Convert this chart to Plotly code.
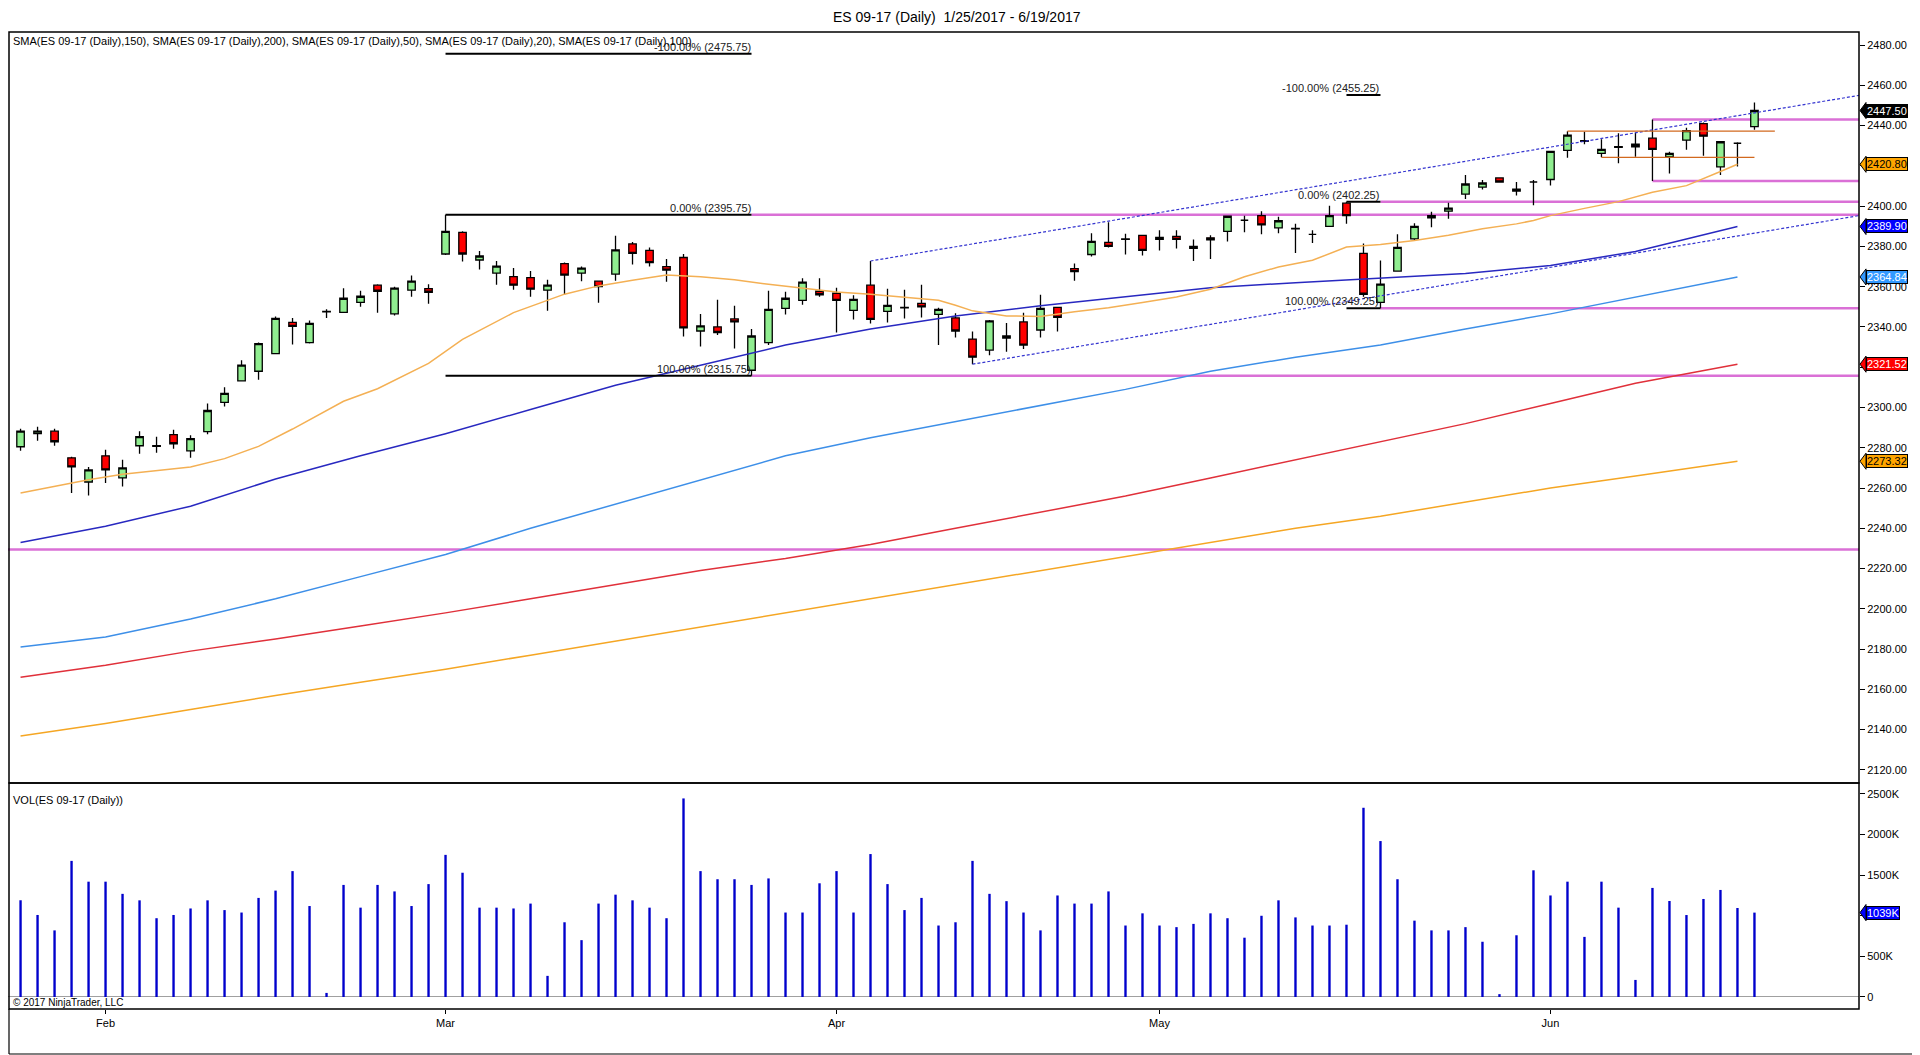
import pandas as pd
import plotly.graph_objects as go

# daily bars of ES 09-17; Good Friday has no bar, the 2/20 and 5/29 holiday sessions do
dates = [d.strftime("%Y-%m-%d") for d in pd.bdate_range("2017-01-25", "2017-06-19")
         if d.strftime("%Y-%m-%d") != "2017-04-14"]

opens = [2280.5, 2287.0, 2288.25, 2275.0, 2263.0, 2276.0, 2265.0, 2281.0, 2281.0, 2286.5,
         2278.5, 2288.0, 2302.5, 2313.25, 2318.0, 2326.75, 2342.25, 2332.25, 2347.5, 2347.25,
         2352.25, 2360.75, 2346.5, 2358.25, 2359.0, 2376.25, 2387.0, 2373.25, 2366.75, 2365.0,
         2364.5, 2358.25, 2371.5, 2366.75, 2362.75, 2366.25, 2381.25, 2378.0, 2370.0, 2374.5,
         2338.0, 2340.0, 2344.0, 2318.5, 2332.25, 2349.25, 2353.25, 2357.75, 2356.75, 2348.25,
         2360.75, 2347.75, 2349.5, 2351.75, 2346.25, 2344.5, 2334.0, 2328.5, 2334.5, 2342.5,
         2338.5, 2349.75, 2369.0, 2376.0, 2382.0, 2383.75, 2385.5, 2383.5, 2385.0, 2379.0,
         2384.25, 2387.5, 2393.0, 2395.25, 2389.25, 2389.0, 2386.0, 2390.0, 2401.5, 2376.5,
         2352.25, 2367.75, 2383.75, 2394.25, 2397.5, 2406.0, 2409.5, 2414.0, 2407.5, 2412.0,
         2413.25, 2427.75, 2432.5, 2426.25, 2429.5, 2430.75, 2433.75, 2424.5, 2432.75, 2441.0,
         2419.5, 2431.25, 2439.5]
highs = [2289.5, 2290.5, 2289.5, 2275.5, 2270.5, 2279.0, 2274.0, 2288.25, 2285.5, 2289.0,
         2286.25, 2302.0, 2310.0, 2323.5, 2332.25, 2345.25, 2344.5, 2343.25, 2348.75, 2359.25,
         2358.0, 2361.25, 2360.0, 2365.5, 2361.25, 2395.75, 2387.5, 2377.75, 2372.75, 2369.25,
         2367.75, 2363.5, 2372.0, 2370.0, 2363.0, 2385.25, 2382.25, 2379.5, 2373.75, 2376.25,
         2346.5, 2353.5, 2350.5, 2339.0, 2358.0, 2357.5, 2364.25, 2364.25, 2359.5, 2355.75,
         2372.75, 2359.0, 2358.5, 2361.0, 2349.5, 2346.75, 2337.75, 2343.5, 2342.0, 2347.0,
         2356.0, 2350.0, 2371.5, 2386.5, 2392.0, 2386.25, 2385.75, 2388.0, 2388.0, 2383.5,
         2385.5, 2395.25, 2395.25, 2397.5, 2394.75, 2391.25, 2388.0, 2400.25, 2402.25, 2381.5,
         2373.0, 2386.0, 2391.5, 2397.25, 2401.75, 2415.5, 2413.0, 2414.25, 2412.0, 2413.0,
         2427.25, 2437.25, 2437.0, 2433.25, 2436.25, 2436.5, 2443.0, 2427.0, 2439.0, 2441.5,
         2432.25, 2431.75, 2451.5]
lows = [2278.5, 2283.5, 2281.0, 2257.5, 2256.25, 2262.5, 2260.75, 2277.0, 2277.5, 2279.5,
        2275.0, 2286.75, 2300.5, 2313.0, 2313.75, 2326.5, 2331.25, 2331.75, 2344.5, 2347.25,
        2350.0, 2347.0, 2345.75, 2355.0, 2351.5, 2375.75, 2372.5, 2368.5, 2361.0, 2358.5,
        2355.0, 2348.0, 2356.0, 2362.75, 2352.0, 2363.0, 2371.0, 2370.0, 2362.5, 2335.25,
        2330.25, 2336.0, 2329.25, 2315.75, 2331.0, 2346.25, 2351.0, 2355.0, 2337.25, 2343.75,
        2341.75, 2342.25, 2344.25, 2344.75, 2331.0, 2334.75, 2321.5, 2326.0, 2327.75, 2329.0,
        2334.75, 2337.75, 2363.0, 2375.0, 2379.5, 2376.0, 2375.5, 2378.0, 2379.0, 2372.75,
        2373.75, 2382.5, 2387.0, 2386.0, 2386.5, 2376.75, 2381.75, 2389.75, 2391.25, 2355.0,
        2349.25, 2367.5, 2382.75, 2389.5, 2393.75, 2403.5, 2408.25, 2411.75, 2405.25, 2400.5,
        2410.25, 2424.0, 2430.75, 2424.25, 2421.25, 2424.5, 2412.5, 2416.25, 2428.0, 2425.0,
        2415.5, 2419.75, 2438.0]
closes = [2288.25, 2288.25, 2283.0, 2270.5, 2269.0, 2269.0, 2270.0, 2285.5, 2280.75, 2282.0,
          2284.5, 2298.5, 2307.0, 2321.0, 2331.75, 2344.25, 2340.25, 2341.75, 2347.75, 2354.25,
          2355.25, 2357.75, 2359.25, 2362.75, 2357.25, 2387.5, 2376.25, 2375.25, 2370.25, 2360.75,
          2358.75, 2360.75, 2365.75, 2369.25, 2360.0, 2378.25, 2376.5, 2372.0, 2368.25, 2339.5,
          2340.5, 2337.25, 2342.5, 2335.5, 2348.75, 2354.25, 2362.25, 2356.0, 2353.25, 2353.75,
          2343.75, 2350.75, 2349.75, 2350.0, 2348.75, 2338.0, 2325.0, 2343.0, 2335.5, 2331.0,
          2349.25, 2344.75, 2367.5, 2382.5, 2380.0, 2383.5, 2378.0, 2384.5, 2383.5, 2380.0,
          2383.25, 2395.0, 2393.0, 2390.75, 2392.75, 2388.75, 2386.0, 2395.25, 2395.25, 2356.25,
          2361.25, 2379.5, 2390.0, 2395.25, 2399.0, 2411.0, 2411.5, 2412.0, 2408.5, 2412.0,
          2427.25, 2435.25, 2432.25, 2428.25, 2429.25, 2429.5, 2428.25, 2426.25, 2437.5, 2434.75,
          2432.0, 2431.25, 2447.5]

# volume in thousands of contracts
volume_k = [1191, 1010, 820, 1676, 1420, 1420, 1270, 1190, 970, 1010,
            1090, 1190, 1070, 1040, 1220, 1310, 1550, 1120, 50, 1380,
            1100, 1380, 1300, 1120, 1390, 1750, 1530, 1100, 1100, 1090,
            1150, 260, 920, 700, 1150, 1260, 1190, 1100, 970, 2445,
            1550, 1450, 1450, 1380, 1460, 1040, 1040, 1400, 1550, 1040,
            1760, 1390, 1070, 1220, 880, 920, 1676, 1270, 1180, 1040,
            820, 1250, 1150, 1150, 1300, 880, 1030, 880, 860, 900,
            1030, 970, 730, 1000, 1190, 980, 880, 880, 890, 2330,
            1920, 1450, 940, 820, 820, 860, 680, 35, 760, 1560,
            1250, 1420, 740, 1420, 1100, 210, 1343, 1182, 1009, 1207,
            1318, 1096, 1039]

# moving averages at these bar numbers (they stop one bar early)
sma_bars = [0, 5, 10, 15, 20, 25, 30, 35, 40, 45, 50, 55, 60, 65, 70, 75, 80, 85, 90, 95, 101]
sma50 = [2233, 2241, 2251, 2264.5, 2276, 2287, 2299, 2311, 2321, 2331, 2339, 2345.5, 2350.5,
         2355, 2359.5, 2362, 2364.3, 2366.5, 2370.5, 2377.5, 2389.90]
sma100 = [2181, 2186, 2195, 2205, 2216, 2227, 2240, 2252, 2264, 2276, 2285, 2293, 2301,
          2309, 2318, 2325, 2331, 2339, 2346.5, 2355, 2364.84]
sma150 = [2166, 2172, 2179, 2185, 2191.5, 2198, 2205, 2212, 2219, 2225, 2232, 2240, 2248,
          2256, 2265, 2274, 2283, 2292, 2302, 2312, 2321.52]
sma200 = [2136.8, 2143, 2150, 2157, 2163.5, 2170, 2177, 2184, 2191, 2198, 2205, 2212, 2219,
          2226, 2233, 2240, 2246, 2253, 2260, 2266, 2273.32]
sma20_bars = [0, 4, 6, 10, 12, 14, 16, 19, 21, 24, 26, 29, 32, 34, 36, 38, 40, 42, 44, 46,
              48, 50, 52, 54, 55, 56, 58, 60, 62, 64, 66, 68, 70, 72, 74, 76, 78, 80, 82, 84,
              86, 88, 89, 90, 92, 94, 96, 98, 100, 101]
sma20 = [2257.5, 2264.1, 2266.9, 2270.4, 2274.6, 2280.7, 2289.3, 2303.1, 2309.3, 2321.9,
         2333.8, 2347.1, 2356.3, 2360.4, 2363.2, 2365.8, 2365.0, 2363.4, 2361.2, 2359.2,
         2357.4, 2356.2, 2354.9, 2353.3, 2350.8, 2348.0, 2345.5, 2345.2, 2347.5, 2349.6,
         2352.1, 2354.9, 2358.7, 2364.9, 2369.8, 2373.1, 2379.7, 2381.0, 2383.0, 2385.5,
         2388.8, 2391.2, 2392.9, 2395.3, 2398.9, 2402.25, 2406.9, 2410.2, 2417.2, 2420.80]

# drawing objects on the chart
fib1 = ("2017-03-01", 2395.75, "2017-03-27", 2315.75)
fib2 = ("2017-05-16", 2402.25, "2017-05-18", 2349.25)
channel_upper = [("2017-04-05", 2372.75), ("2017-06-19", 2446.33)]
channel_lower = [("2017-04-13", 2321.5), ("2017-06-19", 2386.59)]
support_level = 2229.5
box_bar = "2017-06-09"

pos = {d: i for i, d in enumerate(dates)}

# layout in window pixels; the page body adds an 8px margin round the figure
OFF = 8
WIN_W, WIN_H = 1920, 1055
PL, PR, PT, PB = OFF, 1859, 32, 1009
SPLIT = 783
X_LO, X_HI = -1.15 + (PL - 1) / 17.0, 108.15


def px(xw):
    return (xw - PL) / (PR - PL)


def py(yw):
    return (PB - yw) / (PB - PT)


vol_top = py(SPLIT)

fig = go.Figure()

fig.add_trace(go.Candlestick(
    x=dates, open=opens, high=highs, low=lows, close=closes,
    increasing=dict(fillcolor="#90EE90", line=dict(color="black", width=1.3)),
    decreasing=dict(fillcolor="#FF0000", line=dict(color="black", width=1.3)),
    whiskerwidth=0, yaxis="y", hoverinfo="skip"))

fig.add_trace(go.Bar(
    x=dates, y=volume_k, width=0.14, marker=dict(color="#0000CC", line=dict(width=0)),
    yaxis="y2", hoverinfo="skip"))

fig.add_trace(go.Scatter(
    x=[dates[i] for i in sma_bars], y=sma200, mode="lines",
    line=dict(color="#F5A623", width=1.5), yaxis="y", hoverinfo="skip"))
fig.add_trace(go.Scatter(
    x=[dates[i] for i in sma_bars], y=sma150, mode="lines",
    line=dict(color="#E0303A", width=1.5), yaxis="y", hoverinfo="skip"))
fig.add_trace(go.Scatter(
    x=[dates[i] for i in sma_bars], y=sma100, mode="lines",
    line=dict(color="#3D8FE8", width=1.5), yaxis="y", hoverinfo="skip"))
fig.add_trace(go.Scatter(
    x=[dates[i] for i in sma_bars], y=sma50, mode="lines",
    line=dict(color="#2828C0", width=1.5), yaxis="y", hoverinfo="skip"))
fig.add_trace(go.Scatter(
    x=[dates[i] for i in sma20_bars], y=sma20, mode="lines",
    line=dict(color="#F4B054", width=1.5), yaxis="y", hoverinfo="skip"))

shapes = []
annotations = []

# magenta support / resistance lines
magenta = dict(color="#DA70D6", width=2.5)
shapes.append(dict(type="line", xref="x", yref="y", x0=X_LO, x1=X_HI,
                   y0=support_level, y1=support_level, line=magenta, layer="below"))
bi = pos[box_bar]
for lvl in (highs[bi], lows[bi]):
    shapes.append(dict(type="line", xref="x", yref="y", x0=bi, x1=X_HI,
                       y0=lvl, y1=lvl, line=magenta, layer="below"))

# fibonacci retracements
for d0, p0, d1, p1 in (fib1, fib2):
    i0, i1 = pos[d0], pos[d1]
    rng = p0 - p1
    for pct, lvl in ((-100, p0 + rng), (0, p0), (100, p1)):
        shapes.append(dict(type="line", xref="x", yref="y", x0=i0, x1=i1,
                           y0=lvl, y1=lvl, line=dict(color="black", width=2)))
        if pct != -100:
            shapes.append(dict(type="line", xref="x", yref="y", x0=i1, x1=X_HI,
                               y0=lvl, y1=lvl, line=magenta, layer="below"))
        annotations.append(dict(
            x=i1, y=lvl, xref="x", yref="y", xanchor="right", yanchor="bottom",
            text=f"{pct:.2f}% ({lvl:.2f})", showarrow=False, borderpad=0,
            font=dict(size=11, color="#222222")))

# trend channel, drawn as rays to the right edge
for (da, pa), (db, pb) in (channel_upper, channel_lower):
    ia, ib = pos[da], pos[db]
    slope = (pb - pa) / (ib - ia)
    shapes.append(dict(type="line", xref="x", yref="y", x0=ia, x1=X_HI,
                       y0=pa, y1=pa + slope * (X_HI - ia),
                       line=dict(color="#3535D0", width=1.2, dash="3px,2px")))

# short horizontal lines in June
for d0, x_end, lvl in (("2017-06-02", 103.2, highs[pos["2017-06-02"]]),
                       ("2017-06-06", 102.0, lows[pos["2017-06-06"]])):
    shapes.append(dict(type="line", xref="x", yref="y", x0=pos[d0], x1=x_end,
                       y0=lvl, y1=lvl, line=dict(color="#D2691E", width=1.2)))

# pane frames and outer border
frame = dict(color="black", width=1.5)
edge = px(PL + 1)
shapes.append(dict(type="rect", xref="paper", yref="paper", x0=edge, x1=1, y0=vol_top, y1=1,
                   line=frame))
shapes.append(dict(type="rect", xref="paper", yref="paper", x0=edge, x1=1, y0=0, y1=vol_top,
                   line=frame))
thin = dict(color="black", width=1.2)
shapes.append(dict(type="line", xref="paper", yref="paper", x0=edge, x1=px(WIN_W - 1),
                   y0=py(WIN_H - 1), y1=py(WIN_H - 1), line=thin))
shapes.append(dict(type="line", xref="paper", yref="paper", x0=edge, x1=edge,
                   y0=0, y1=py(WIN_H - 1), line=thin))
shapes.append(dict(type="line", xref="paper", yref="paper", x0=px(WIN_W - 1), x1=px(WIN_W - 1),
                   y0=py(WIN_H - 1), y1=1, line=thin))

# last-value tags on the right axis
tags = [("y", closes[-1], f"{closes[-1]:.2f}", "black", "white"),
        ("y", sma20[-1], f"{sma20[-1]:.2f}", "#FFA500", "black"),
        ("y", sma50[-1], f"{sma50[-1]:.2f}", "#0000FF", "white"),
        ("y", sma100[-1], f"{sma100[-1]:.2f}", "#3399FF", "white"),
        ("y", sma150[-1], f"{sma150[-1]:.2f}", "#FF0000", "white"),
        ("y", sma200[-1], f"{sma200[-1]:.2f}", "#FFA500", "black"),
        ("y2", volume_k[-1], f"{volume_k[-1]}K", "#0000FF", "white")]
for yref, val, txt, bg, fg in tags:
    half = 4.0 if yref == "y" else 100
    annotations.append(dict(
        x=px(PR + 7), y=val, xref="paper", yref=yref, xanchor="left", yanchor="middle",
        text=txt, showarrow=False, bgcolor=bg, bordercolor="black", borderwidth=1,
        borderpad=0, font=dict(size=11, color=fg)))
    shapes.append(dict(
        type="path", xref="paper", yref=yref, fillcolor=bg, line=dict(color="black", width=1),
        path=f"M {px(PR + 1)},{val} L {px(PR + 7)},{val + half} L {px(PR + 7)},{val - half} Z"))

legend_text = ("SMA(ES 09-17 (Daily),150), SMA(ES 09-17 (Daily),200), SMA(ES 09-17 (Daily),50), "
               "SMA(ES 09-17 (Daily),20), SMA(ES 09-17 (Daily),100)")
annotations += [
    dict(x=px(957), y=py(17), xref="paper", yref="paper", xanchor="center", yanchor="middle",
         text="ES 09-17 (Daily)  1/25/2017 - 6/19/2017",
         showarrow=False, font=dict(size=14, color="black")),
    dict(x=px(11), y=py(41), xref="paper", yref="paper", xanchor="left", yanchor="middle",
         text=legend_text, showarrow=False, font=dict(size=11, color="black")),
    dict(x=px(11), y=py(800), xref="paper", yref="paper", xanchor="left", yanchor="middle",
         text="VOL(ES 09-17 (Daily))", showarrow=False, font=dict(size=11, color="black")),
    dict(x=px(11), y=py(1002), xref="paper", yref="paper", xanchor="left", yanchor="middle",
         text="© 2017 NinjaTrader, LLC", showarrow=False, font=dict(size=10, color="black")),
]

month_ticks = [d for i, d in enumerate(dates) if i > 0 and d[5:7] != dates[i - 1][5:7]]
month_labels = [pd.Timestamp(d).strftime("%b") for d in month_ticks]

fig.update_layout(
    width=WIN_W - OFF, height=WIN_H - OFF,
    margin=dict(l=PL - OFF, r=WIN_W - PR, t=PT - OFF, b=WIN_H - PB),
    paper_bgcolor="white", plot_bgcolor="white",
    font=dict(family="Liberation Sans, Arial, sans-serif", size=11, color="black"),
    showlegend=False,
    boxgap=0.37,
    xaxis=dict(type="category", categoryorder="array", categoryarray=dates,
               range=[X_LO, X_HI], anchor="y2",
               tickvals=month_ticks, ticktext=month_labels,
               ticks="outside", ticklen=4, tickcolor="black",
               showgrid=False, zeroline=False, showline=False,
               rangeslider=dict(visible=False), fixedrange=True),
    yaxis=dict(domain=[vol_top, 1], range=[2113.5, 2486.5], side="right", anchor="x",
               tick0=2120, dtick=20, tickformat=".2f", ticks="outside", ticklen=5,
               tickcolor="black", showgrid=False, zeroline=False, showline=False),
    yaxis2=dict(domain=[0, vol_top], range=[-148, 2635], side="right", anchor="x",
                tickvals=[0, 500, 1000, 1500, 2000, 2500],
                ticktext=["0", "500K", "1000K", "1500K", "2000K", "2500K"],
                ticks="outside", ticklen=5, tickcolor="black", showgrid=False,
                zeroline=True, zerolinecolor="#A0A0A0", zerolinewidth=1, showline=False),
    shapes=shapes,
    annotations=annotations,
)

fig.write_html("out.html")
